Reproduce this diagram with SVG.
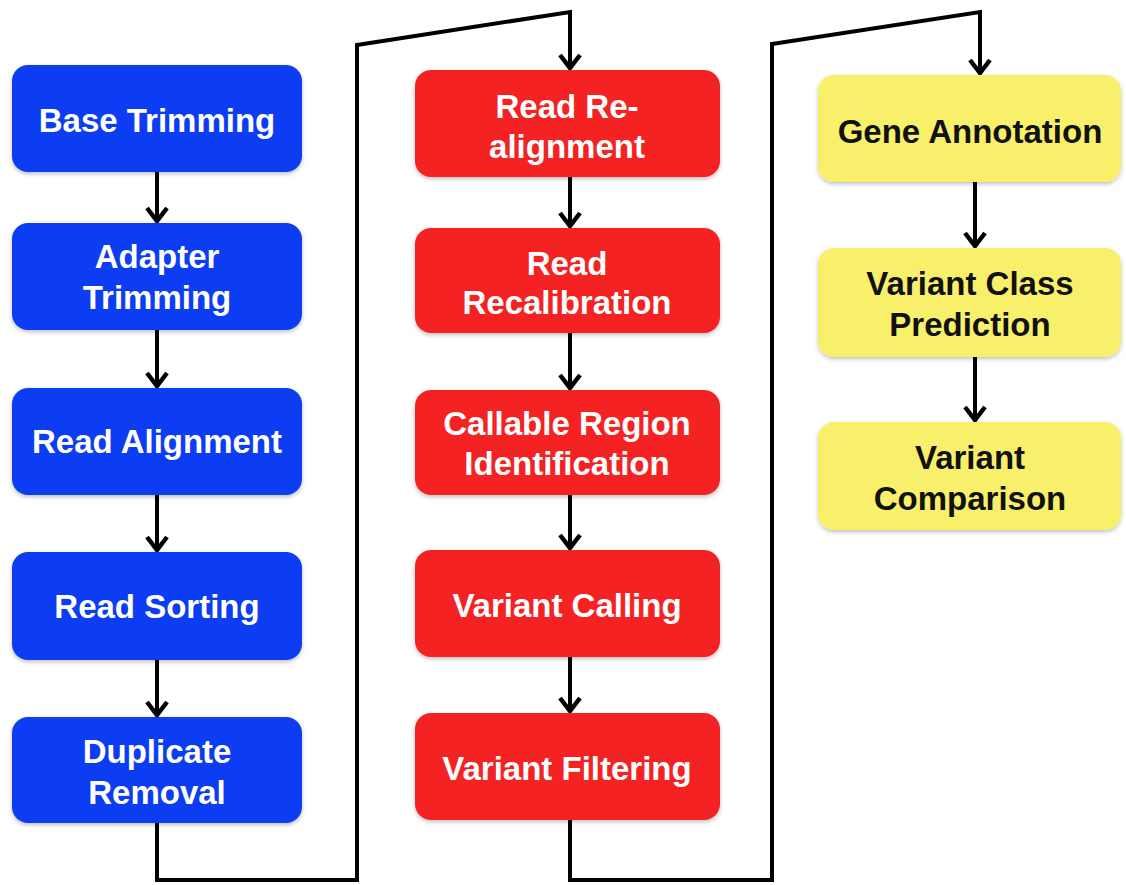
<svg xmlns="http://www.w3.org/2000/svg" width="1126" height="885" viewBox="0 0 1126 885">
<style>
.box{stroke:none}
.blue{fill:#0b3cf2}
.red{fill:#f42222}
.yellow{fill:#f8f06a}
.lbl{font-family:"Liberation Sans",Arial,sans-serif;font-weight:bold;font-size:33px;text-anchor:middle}
.w{fill:#ffffff}
.k{fill:#111111}
.conn{fill:none;stroke:#000;stroke-width:4;stroke-linejoin:miter}
</style>
<defs>
<marker id="ah" viewBox="0 0 20 24" refX="16" refY="12" markerWidth="20" markerHeight="24" markerUnits="userSpaceOnUse" orient="auto">
<polyline points="3,2 16,12 3,22" fill="none" stroke="#000" stroke-width="4.5"/>
</marker>
<filter id="sh" x="-5%" y="-5%" width="110%" height="115%">
<feDropShadow dx="0" dy="2" stdDeviation="2" flood-color="#000" flood-opacity="0.25"/>
</filter>
</defs>
<rect width="1126" height="885" fill="#ffffff"/>

<g id="connectors">
<line class="conn" x1="157" y1="172" x2="157" y2="221" marker-end="url(#ah)"/>
<line class="conn" x1="157" y1="330" x2="157" y2="386" marker-end="url(#ah)"/>
<line class="conn" x1="157" y1="495" x2="157" y2="550" marker-end="url(#ah)"/>
<line class="conn" x1="157" y1="660" x2="157" y2="715" marker-end="url(#ah)"/>
<polyline class="conn" points="157,823 157,880 357,880 357,45 570,12 570,68" marker-end="url(#ah)"/>
<line class="conn" x1="570" y1="177" x2="570" y2="226" marker-end="url(#ah)"/>
<line class="conn" x1="570" y1="333" x2="570" y2="388" marker-end="url(#ah)"/>
<line class="conn" x1="570" y1="495" x2="570" y2="548" marker-end="url(#ah)"/>
<line class="conn" x1="570" y1="657" x2="570" y2="711" marker-end="url(#ah)"/>
<polyline class="conn" points="570,820 570,880 772,880 772,44 980,12 980,73" marker-end="url(#ah)"/>
<line class="conn" x1="975" y1="182" x2="975" y2="246" marker-end="url(#ah)"/>
<line class="conn" x1="975" y1="357" x2="975" y2="420" marker-end="url(#ah)"/>
</g>

<g id="base-trimming">
<rect class="box blue" filter="url(#sh)" x="12" y="65" width="290" height="107" rx="16"/>
<text class="lbl w" x="157" y="132">Base Trimming</text>
</g>
<g id="adapter-trimming">
<rect class="box blue" filter="url(#sh)" x="12" y="223" width="290" height="107" rx="16"/>
<text class="lbl w" x="157" y="268">Adapter</text>
<text class="lbl w" x="157" y="309">Trimming</text>
</g>
<g id="read-alignment">
<rect class="box blue" filter="url(#sh)" x="12" y="388" width="290" height="107" rx="16"/>
<text class="lbl w" x="157" y="453">Read Alignment</text>
</g>
<g id="read-sorting">
<rect class="box blue" filter="url(#sh)" x="12" y="552" width="290" height="108" rx="16"/>
<text class="lbl w" x="157" y="618">Read Sorting</text>
</g>
<g id="duplicate-removal">
<rect class="box blue" filter="url(#sh)" x="12" y="717" width="290" height="106" rx="16"/>
<text class="lbl w" x="157" y="763">Duplicate</text>
<text class="lbl w" x="157" y="804">Removal</text>
</g>

<g id="read-realignment">
<rect class="box red" filter="url(#sh)" x="415" y="70" width="305" height="107" rx="16"/>
<text class="lbl w" x="567" y="118">Read Re-</text>
<text class="lbl w" x="567" y="158">alignment</text>
</g>
<g id="read-recalibration">
<rect class="box red" filter="url(#sh)" x="415" y="228" width="305" height="105" rx="16"/>
<text class="lbl w" x="567" y="275">Read</text>
<text class="lbl w" x="567" y="314">Recalibration</text>
</g>
<g id="callable-region">
<rect class="box red" filter="url(#sh)" x="415" y="390" width="305" height="105" rx="16"/>
<text class="lbl w" x="567" y="435">Callable Region</text>
<text class="lbl w" x="567" y="475">Identification</text>
</g>
<g id="variant-calling">
<rect class="box red" filter="url(#sh)" x="415" y="550" width="305" height="107" rx="16"/>
<text class="lbl w" x="567" y="617">Variant Calling</text>
</g>
<g id="variant-filtering">
<rect class="box red" filter="url(#sh)" x="415" y="713" width="305" height="107" rx="16"/>
<text class="lbl w" x="567" y="780">Variant Filtering</text>
</g>

<g id="gene-annotation">
<rect class="box yellow" filter="url(#sh)" x="818" y="75" width="303" height="107" rx="16"/>
<text class="lbl k" x="970" y="143">Gene Annotation</text>
</g>
<g id="variant-class-prediction">
<rect class="box yellow" filter="url(#sh)" x="818" y="248" width="303" height="109" rx="16"/>
<text class="lbl k" x="970" y="295">Variant Class</text>
<text class="lbl k" x="970" y="336">Prediction</text>
</g>
<g id="variant-comparison">
<rect class="box yellow" filter="url(#sh)" x="818" y="422" width="303" height="108" rx="16"/>
<text class="lbl k" x="970" y="469">Variant</text>
<text class="lbl k" x="970" y="510">Comparison</text>
</g>
</svg>
